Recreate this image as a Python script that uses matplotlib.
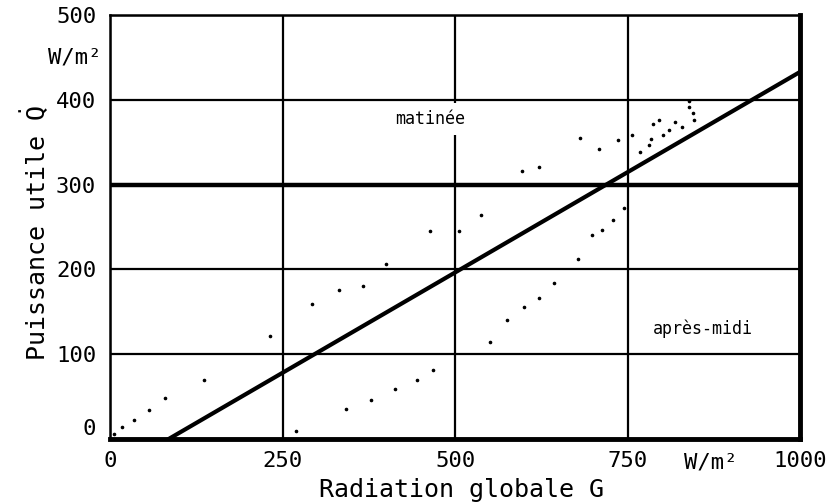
import matplotlib
matplotlib.use("Agg")
import matplotlib.pyplot as plt

# === DATA ===
# regression line: useful power vs global radiation
line_g = [85, 1000]
line_q = [0, 433]

# morning measurements (upper branch)
morning_g = [6, 18, 35, 57, 80, 136, 232, 293, 332, 367, 400, 464, 506, 538, 597, 622,
             681, 709, 736, 757, 768, 781, 784, 787, 796, 801, 810, 819, 829, 839, 839, 845, 846]
morning_q = [6, 14, 22, 34, 48, 69, 122, 159, 176, 181, 207, 245, 245, 264, 316, 321,
             355, 342, 353, 358, 339, 347, 354, 372, 376, 358, 364, 374, 368, 399, 392, 385, 376]

# afternoon measurements (lower branch)
afternoon_g = [270, 342, 378, 413, 445, 468, 551, 575, 600, 622, 643, 678, 698, 713, 729, 745]
afternoon_q = [9, 35, 46, 59, 69, 81, 114, 140, 156, 166, 184, 212, 241, 246, 258, 272]

x_ticks = [0, 250, 500, 750, 1000]
x_ticklabels = ["0", "250", "500", "750", "1000"]
y_ticks = [0, 100, 200, 300, 400, 500]
y_ticklabels = ["0", "100", "200", "300", "400", "500"]

# === PLOT ===
plt.rcParams["font.family"] = ["DejaVu Sans Mono", "DejaVu Sans"]
plt.rcParams["mathtext.fontset"] = "dejavusans"

fig = plt.figure(figsize=(8.38, 5.04), dpi=100)
ax = fig.add_axes([0.1313, 0.129, 0.8234, 0.841])

ax.set_xlim(0, 1000)
ax.set_ylim(0, 500)

ax.set_xticks(x_ticks)
ax.set_xticklabels(x_ticklabels, fontsize=16)
ax.set_yticks(y_ticks)
ax.set_yticklabels(y_ticklabels, fontsize=16)
ax.tick_params(axis="x", length=0, pad=9)
ax.tick_params(axis="y", length=0, pad=10)
ax.get_yticklabels()[0].set_va("bottom")

ax.grid(True, color="black", linewidth=1.6)
ax.axhline(300, color="black", linewidth=3.2)

for side in ["left", "top"]:
    ax.spines[side].set_linewidth(1.8)
for side in ["right", "bottom"]:
    ax.spines[side].set_linewidth(3.5)

ax.plot(line_g, line_q, color="black", linewidth=3, zorder=4)
ax.plot(morning_g, morning_q, "o", color="black", markersize=1.6, zorder=4)
ax.plot(afternoon_g, afternoon_q, "o", color="black", markersize=1.6, zorder=4)

ax.text(464, 378, "matinée", fontsize=12, ha="center", va="center",
        bbox=dict(facecolor="white", edgecolor="none", pad=5), zorder=3)
ax.text(859, 130, "après-midi", fontsize=12, ha="center", va="center", zorder=3)

# units
ax.text(-12, 450, "W/m²", fontsize=16, ha="right", va="center", clip_on=False)
ax.text(870, -28, "W/m²", fontsize=16, ha="center", va="center", clip_on=False)

ax.set_xlabel("Radiation globale G", fontsize=18, va="center")
ax.set_ylabel(r"Puissance utile $\dot{\mathtt{Q}}$", fontsize=18, va="center")
ax.yaxis.set_label_coords(-0.11, 0.487)
ax.xaxis.set_label_coords(0.51, -0.12)

plt.savefig("out.png", dpi=100)
